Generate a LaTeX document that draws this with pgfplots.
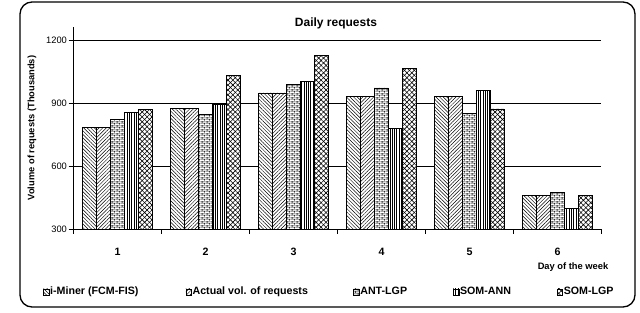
\documentclass[border=0pt]{standalone}
\usepackage{fontspec}
\setmainfont{Liberation Sans}
\usepackage{pgfplots}
\pgfplotsset{compat=1.18}
\usetikzlibrary{patterns,patterns.meta}

\tikzdeclarepattern{
  name=smallbricks,
  type=uncolored,
  bounding box={(0pt,0pt) and (4pt,3.2pt)},
  tile size={(4pt,3.2pt)},
  code={
    \pgfsetlinewidth{0.4pt}
    \pgfpathmoveto{\pgfpoint{0pt}{0.8pt}}\pgfpathlineto{\pgfpoint{4pt}{0.8pt}}
    \pgfpathmoveto{\pgfpoint{0pt}{2.4pt}}\pgfpathlineto{\pgfpoint{4pt}{2.4pt}}
    \pgfpathmoveto{\pgfpoint{1pt}{0.8pt}}\pgfpathlineto{\pgfpoint{1pt}{2.4pt}}
    \pgfpathmoveto{\pgfpoint{3pt}{2.4pt}}\pgfpathlineto{\pgfpoint{3pt}{3.2pt}}
    \pgfpathmoveto{\pgfpoint{3pt}{0pt}}\pgfpathlineto{\pgfpoint{3pt}{0.8pt}}
    \pgfusepath{stroke}
  }
}

\tikzset{
  pA/.style={fill=white, draw=black, line width=0.4pt, postaction={pattern={Lines[angle=-45,distance=1.9pt,line width=0.35pt]}}},
  pB/.style={fill=white, draw=black, line width=0.4pt, postaction={pattern={Lines[angle=45,distance=1.9pt,line width=0.35pt]}}},
  pC/.style={fill=white, draw=black, line width=0.4pt, postaction={pattern=smallbricks}},
  pD/.style={fill=white, draw=black, line width=0.4pt, postaction={pattern={Lines[angle=90,distance=1.7pt,line width=0.25pt]}}},
  pE/.style={fill=white, draw=black, line width=0.4pt,
    postaction={pattern={Lines[angle=45,distance=2.6pt,line width=0.45pt]}},
    postaction={pattern={Lines[angle=-45,distance=2.6pt,line width=0.45pt]}}},
}

\begin{document}
\begin{tikzpicture}
\path[use as bounding box] (0,0) rectangle (480pt,234.75pt);
\draw[rounded corners=9pt, line width=1pt] (15pt,4.5pt) rectangle (476.25pt,233.25pt);
\node[font=\bfseries\fontsize{9}{10}\selectfont] at (252pt,217.5pt) {Daily requests};
\node[rotate=90, font=\bfseries\fontsize{7}{8}\selectfont] at (24pt,138.75pt) {Volume of requests (Thousands)};
\node[anchor=east, font=\bfseries\fontsize{7}{8}\selectfont] at (459.75pt,34.5pt) {Day of the week};

\begin{axis}[
  at={(55.125pt,63pt)}, anchor=south west,
  scale only axis, width=396pt, height=151.7pt,
  xmin=0.5, xmax=6.5, ymin=300, ymax=1264,
  ybar=0pt, bar width=10.5pt,
  axis x line=bottom, axis y line=left,
  x axis line style={-, line width=0.6pt}, y axis line style={-, line width=0.6pt},
  xtick={1,2,3,4,5,6},
  minor xtick={0.5,1.5,2.5,3.5,4.5,5.5,6.5},
  ytick={300,600,900,1200},
  tick align=outside, major tick length=3.75pt, minor tick length=3.5pt,
  major x tick style={draw=none},
  minor x tick style={black, line width=0.6pt},
  major y tick style={black, line width=0.6pt},
  ymajorgrids, grid style={black, line width=0.7pt},
  /pgf/number format/assume math mode=true,
  /pgf/number format/1000 sep={},
  yticklabel style={font=\fontsize{7}{8}\selectfont, inner sep=1pt},
  xticklabel style={font=\bfseries\fontsize{8}{9}\selectfont, yshift=-7pt},
  legend columns=5,
  legend image code/.code={\draw[#1] (0pt,-2.2pt) rectangle (4.2pt,2.2pt);},
  legend style={at={(-0.0578,-0.311)}, anchor=west, draw=none, fill=none, inner sep=0pt,
    column sep=0pt, font=\bfseries\fontsize{8}{9}\selectfont,
    nodes={inner sep=0.6pt}, cells={anchor=west}},
]
\addplot[pA] coordinates {(1,785) (2,875) (3,949) (4,932) (5,932) (6,461)};
\addplot[pB] coordinates {(1,785) (2,875) (3,949) (4,932) (5,932) (6,461)};
\addplot[pC] coordinates {(1,821) (2,846) (3,988) (4,972) (5,851) (6,473)};
\addplot[pD] coordinates {(1,857) (2,893) (3,1004) (4,780) (5,959) (6,399)};
\addplot[pE] coordinates {(1,869) (2,1031) (3,1127) (4,1067) (5,872) (6,461)};
\addlegendentry{\makebox[101pt][l]{i-Miner (FCM-FIS)}}
\addlegendentry{\makebox[120pt][l]{Actual vol. of requests}}
\addlegendentry{\makebox[69pt][l]{ANT-LGP}}
\addlegendentry{\makebox[72pt][l]{SOM-ANN}}
\addlegendentry{SOM-LGP}
\end{axis}
\end{tikzpicture}
\end{document}
